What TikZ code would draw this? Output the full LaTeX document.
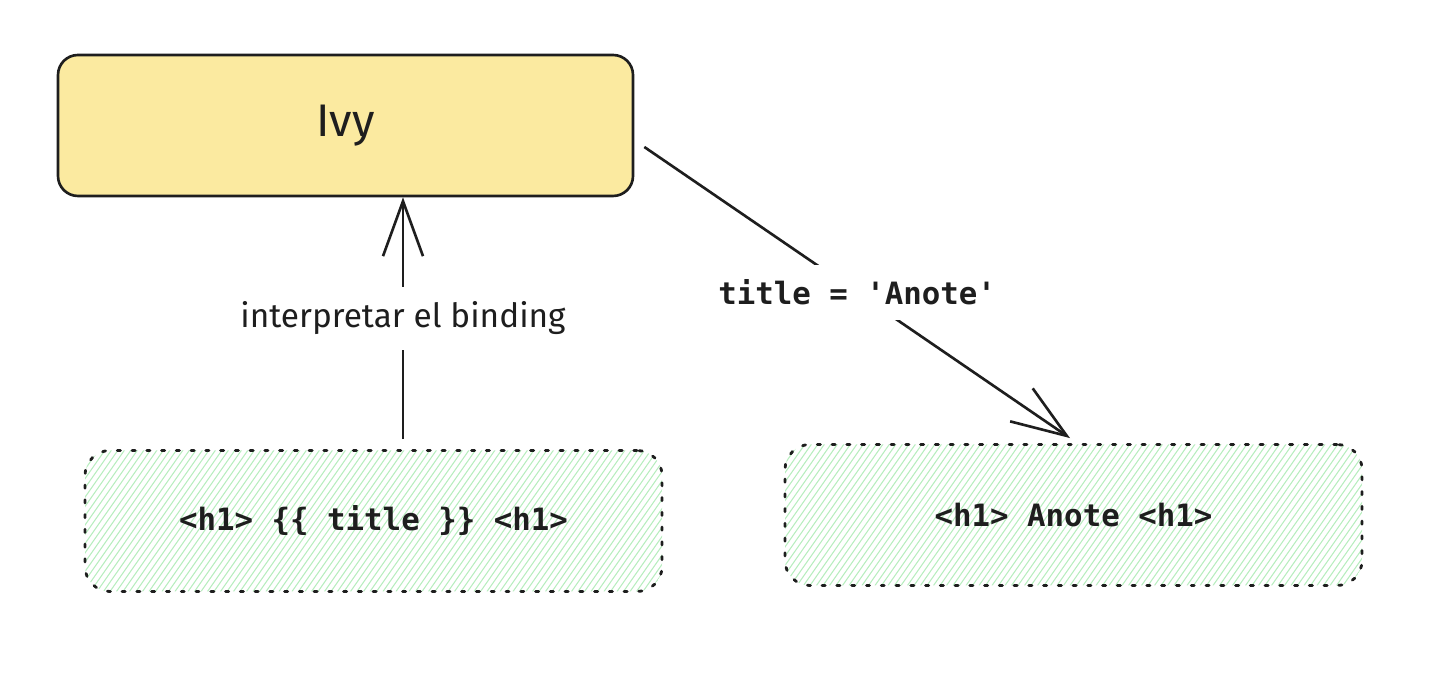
\documentclass[tikz,border=0pt]{standalone}
\usepackage{fontspec}
\setmonofont{DejaVu Sans Mono}
\newfontfamily\handfont{Fira Sans}
\usetikzlibrary{arrows.meta}
\definecolor{ink}{HTML}{1E1E1E}
\definecolor{ivyfill}{HTML}{FBEAA0}
\definecolor{hatch}{HTML}{B7EDBE}
\begin{document}
\begin{tikzpicture}[
    ivybox/.style={draw=ink,line width=1.5pt,fill=ivyfill,rounded corners=.4cm,minimum width=11.5cm,minimum height=2.82cm},
    codebox/.style={draw=ink,line width=1.6pt,dash pattern=on 1.8pt off 6.6pt,line cap=round,rounded corners=.5cm,
        path picture={\foreach \k in {0,...,105}
            \draw[hatch,solid,line width=.6pt] ([xshift=\k*.13cm-2.1cm]path picture bounding box.south west) -- ++(55:3.6cm);},
        minimum width=11.54cm,minimum height=2.82cm,text=ink,font=\ttfamily\bfseries\fontsize{17.5}{21}\selectfont},
    arr/.style={draw=ink,line width=1.5pt,-{Straight Barb[length=1.1cm,width=.8cm,line width=1.5pt]}},
    lbl/.style={fill=white,text=ink,inner xsep=2pt,inner ysep=.3cm}
]
\useasboundingbox (0,0) rectangle (28.84,13.92);
\node[ivybox] (ivy) at (6.91,11.41) {\handfont\fontsize{26}{30}\selectfont\color{ink}Ivy};
\node[codebox] (tmpl) at (7.47,3.50) {<h1> \{\{ title \}\} <h1>};
\node[codebox] (out) at (21.47,3.62) {<h1> Anote <h1>};
\draw[arr] ([xshift=.59cm,yshift=.2cm]tmpl.north) -- ([xshift=.59cm]tmpl.north |- ivy.south)
    node[lbl,midway,font=\handfont\fontsize{19}{22}\selectfont] {interpretar el binding};
\draw[arr] ([shift={(.2,-.43)}]ivy.east) -- ([shift={(-.07,.1)}]out.north)
    node[lbl,midway,font=\ttfamily\bfseries\fontsize{17.5}{21}\selectfont] {title = 'Anote'};
\end{tikzpicture}
\end{document}
